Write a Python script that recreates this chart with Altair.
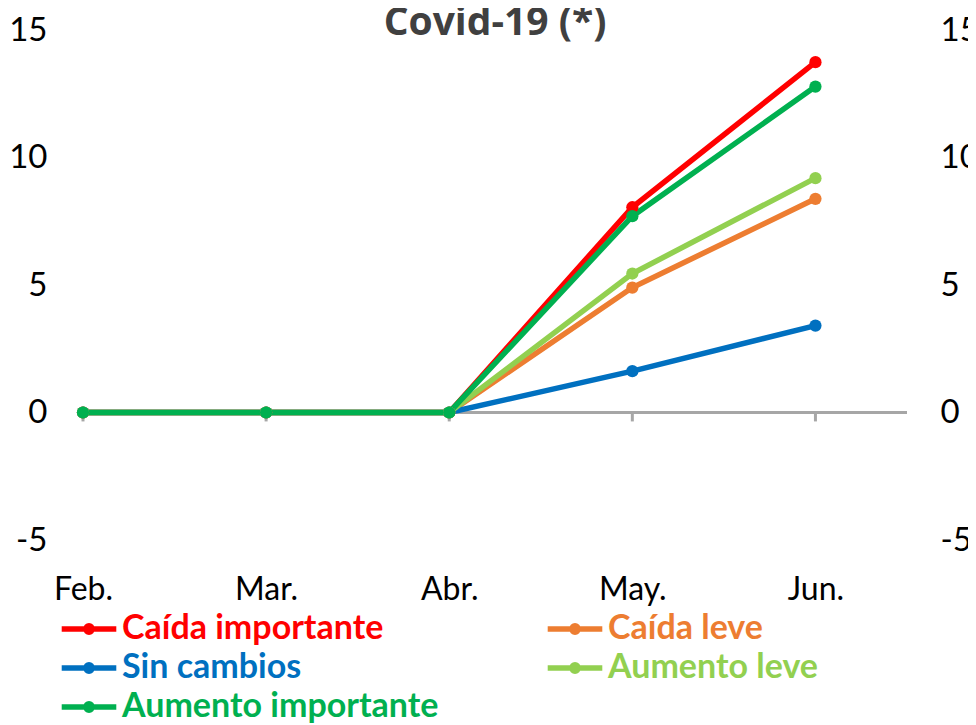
import altair as alt
import pandas as pd

months = ["Feb.", "Mar.", "Abr.", "May.", "Jun."]
series = ["Caída importante", "Caída leve", "Sin cambios", "Aumento leve", "Aumento importante"]
colors = ["#FF0000", "#ED7D31", "#0070C0", "#92D050", "#00B050"]

caida_importante = [0, 0, 0, 8.05, 13.74]
caida_leve = [0, 0, 0, 4.9, 8.38]
sin_cambios = [0, 0, 0, 1.62, 3.41]
aumento_leve = [0, 0, 0, 5.45, 9.19]
aumento_importante = [0, 0, 0, 7.7, 12.78]

y_ticks = [-5, 0, 5, 10, 15]
title_text = "Covid-19 (*)"

all_values = [caida_importante, caida_leve, sin_cambios, aumento_leve, aumento_importante]
rows = []
for s, vals in zip(series, all_values):
    for m, v in zip(months, vals):
        rows.append({"serie": s, "mes": m, "valor": v})
df = pd.DataFrame(rows)
df_months = pd.DataFrame({"mes": months})
df_title = pd.DataFrame({"titulo": [title_text]})

FONT = "Lato"
W, H = 824, 510
yscale = alt.Scale(domain=[-5, 15], nice=False, zero=False)
xscale = alt.Scale(type="point", padding=0.25, align=0)
cscale = alt.Scale(domain=series, range=colors)

x_axis = alt.Axis(title=None, domain=False, ticks=False, labelPadding=34,
                  labelFontSize=32, labelFont=FONT, labelColor="#000000",
                  labelAngle=0, grid=False)
x_enc = alt.X("mes:N", sort=months, scale=xscale, axis=x_axis)

left_axis = alt.Axis(title=None, values=y_ticks, domain=False, ticks=False, grid=False,
                     labelExpr="'' + datum.value",
                     labelPadding=36, labelFontSize=33, labelFont=FONT, labelColor="#000000")
right_axis = alt.Axis(title=None, orient="right", values=y_ticks, domain=False, ticks=False,
                      grid=False, labelExpr="'' + datum.value",
                      labelPadding=33, labelFontSize=33, labelFont=FONT,
                      labelColor="#000000", labelAlign="left")

zero_line = alt.Chart(df_months).mark_rule(color="#A6A6A6", strokeWidth=3).encode(
    y=alt.YDatum(0, scale=yscale, axis=right_axis)
)

ticks = alt.Chart(df_months).mark_rule(color="#A6A6A6", strokeWidth=3).encode(
    x=x_enc,
    y=alt.YDatum(0, scale=yscale, axis=None),
    y2=alt.Y2Datum(-0.35),
)

label_color_expr = "scale('stroke', datum.value)"

legend_symbol = ("M-3.9,0 H3.9 "
                 "M0.45,0 A0.45,0.45 0 1,1 -0.45,0 A0.45,0.45 0 1,1 0.45,0")

lines = alt.Chart(df).mark_line(strokeWidth=5.5).encode(
    x=x_enc,
    y=alt.Y("valor:Q", scale=yscale, axis=left_axis),
    stroke=alt.Stroke("serie:N", scale=cscale, sort=series,
                      legend=alt.Legend(title=None, orient="none", legendX=-11, legendY=582,
                                        direction="horizontal",
                                        columns=2, columnPadding=97, rowPadding=5,
                                        symbolType=legend_symbol, symbolSize=196,
                                        symbolStrokeWidth=5.5, labelOffset=16,
                                        labelFont=FONT, labelFontSize=34,
                                        labelFontWeight="bold",
                                        labelColor={"expr": label_color_expr},
                                        labelLimit=0, padding=0)),
    detail="serie:N",
)

points = alt.Chart(df).mark_point(filled=True, size=150, opacity=1).encode(
    x=x_enc,
    y=alt.Y("valor:Q", scale=yscale, axis=None),
    fill=alt.Fill("serie:N", scale=cscale, legend=None),
)

title_mark = alt.Chart(df_title).mark_text(
    font="Open Sans", fontSize=39, fontWeight="bold", color="#404040",
    align="center", baseline="alphabetic"
).encode(
    text="titulo:N",
    x=alt.value(W / 2),
    y=alt.value(5),
)

chart = alt.layer(zero_line, ticks, lines, points, title_mark).resolve_scale(
    y="independent"
).properties(
    width=W,
    height=H,
    autosize="none",
    background="white",
    padding={"left": 75, "top": 22, "right": 61, "bottom": 185},
).configure_view(strokeWidth=0, stroke="transparent")

chart.save("out.html", embed_options={"renderer": "svg", "actions": False})
